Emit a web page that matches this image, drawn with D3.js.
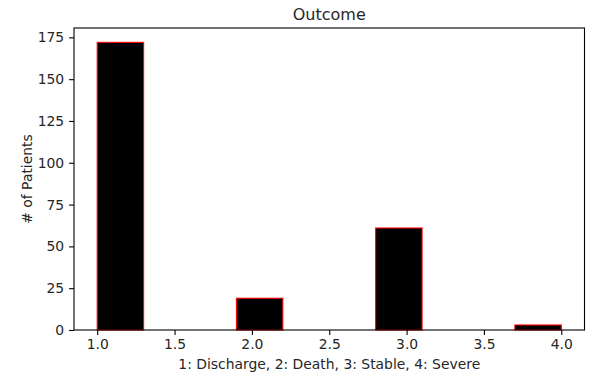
<!DOCTYPE html>
<html><head><meta charset="utf-8">
<script src="https://cdn.jsdelivr.net/npm/d3@7"></script>
<style>body{margin:0;background:#fff}svg{display:block}text{font-family:"DejaVu Sans",sans-serif;fill:#262626}</style>
</head><body><svg id="c" width="589" height="376"></svg>
<script>
const binEdges = [1.0,1.3,1.6,1.9,2.2,2.5,2.8,3.1,3.4,3.7,4.0];
const counts = [172,0,0,19,0,0,61,0,0,3];
const xTicks = [1.0,1.5,2.0,2.5,3.0,3.5,4.0];
const yTicks = [0,25,50,75,100,125,150,175];
const title = "Outcome";
const xLabel = "1: Discharge, 2: Death, 3: Stable, 4: Severe";
const yLabel = "# of Patients";

const svg = d3.select("#c");
const L=74, R=584.5, T=28, B=330;
const FS=13.9;
const x = d3.scaleLinear().domain([0.85,4.15]).range([L,R]);
const y = d3.scaleLinear().domain([0,172*1.05]).range([B,T]);

const bins = counts.map((c,i)=>({x0:binEdges[i],x1:binEdges[i+1],c}));
svg.append("g").selectAll("rect").data(bins).join("rect")
  .attr("x",d=>x(d.x0)).attr("width",d=>x(d.x1)-x(d.x0))
  .attr("y",d=>y(d.c)).attr("height",d=>y(0)-y(d.c))
  .attr("fill","#000").attr("stroke","red").attr("stroke-width",1.1);

const xa = svg.append("g").attr("transform",`translate(0,${B})`)
  .call(d3.axisBottom(x).tickValues(xTicks).tickFormat(d3.format(".1f")).tickSize(4.9).tickPadding(4.4));
const ya = svg.append("g").attr("transform",`translate(${L},0)`)
  .call(d3.axisLeft(y).tickValues(yTicks).tickFormat(d3.format("d")).tickSize(4.9).tickPadding(4.9));
[xa,ya].forEach(a=>{a.select(".domain").remove();a.selectAll("line").attr("stroke","#000").attr("stroke-width",1.1);
  a.selectAll("text").attr("font-size",FS).attr("font-family","DejaVu Sans").attr("fill","#262626");});

svg.append("rect").attr("x",L).attr("y",T).attr("width",R-L).attr("height",B-T)
  .attr("fill","none").attr("stroke","#000").attr("stroke-width",1.1);

svg.append("text").attr("x",(L+R)/2).attr("y",T-8.5).attr("text-anchor","middle").attr("font-size",16).text(title);
svg.append("text").attr("x",(L+R)/2).attr("y",369).attr("text-anchor","middle").attr("font-size",FS).text(xLabel);
svg.append("text").attr("transform",`translate(32,${(T+B)/2}) rotate(-90)`).attr("text-anchor","middle").attr("font-size",FS).text(yLabel);
</script></body></html>
